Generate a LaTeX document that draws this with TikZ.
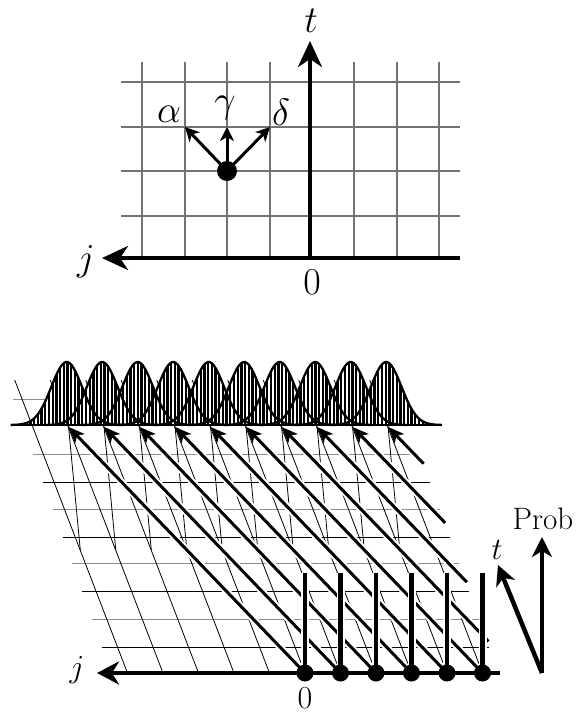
\RequirePackage{fix-cm}
\documentclass[tikz,border=0pt]{standalone}
\usetikzlibrary{arrows.meta}
\tikzset{
  topgrid/.style={black!55, line width=1.1pt},
  axisline/.style={line width=4pt},
  bigtip/.style={-{Stealth[length=26pt,width=24pt,inset=8pt]}},
  smallarrow/.style={line width=3pt,-{Stealth[length=14pt,width=14pt,inset=4pt]}},
  toplab/.style={font=\fontsize{38}{40}\selectfont, inner sep=0pt},
  botlab/.style={font=\fontsize{32}{36}\selectfont, inner sep=0pt},
  problab/.style={font=\fontsize{31}{34}\selectfont, inner sep=0pt},
  thinline/.style={black, line width=0.8pt},
  halo/.style={white, line width=7pt, shorten >=12pt},
  thickarrow/.style={line width=3pt,-{Stealth[length=16pt,width=13pt,inset=4pt]}},
  bar/.style={line width=4.5pt},
  barhalo/.style={white, line width=8pt},
  botdot/.style={circle, fill=black, minimum size=17pt, inner sep=0pt},
  topdot/.style={circle, fill=black, minimum size=20pt, inner sep=0pt},
  gcurve/.style={line width=2.3pt},
  probarrow/.style={line width=4.5pt,-{Stealth[length=20pt,width=20pt,inset=6pt]}},
}
\begin{document}
\begin{tikzpicture}[x=1pt,y=-1pt]
\useasboundingbox (0,0) rectangle (586,716);

% ---------------- top lattice ----------------
\foreach \x in {142,185,227,270,354,397,439}
  \draw[topgrid] (\x,62) -- (\x,258);
\foreach \y in {82,127,171,216}
  \draw[topgrid] (121,\y) -- (460,\y);
\coordinate (O1) at (310,258);
\coordinate (jS1) at (460,258);
\coordinate (jE1) at (102,258);
\coordinate (tE1) at (310,41);
\draw[axisline,bigtip] (jS1) -- (jE1);
\draw[axisline,bigtip] (O1) -- (tE1);
\node[topdot] (P) at (227,171) {};
\coordinate (A) at (185,127);
\coordinate (G) at (227,127);
\coordinate (D) at (270,127);
\draw[smallarrow] (P.center) -- (A);
\draw[smallarrow] (P.center) -- (G);
\draw[smallarrow] (P.center) -- (D);
\node[toplab] (la) at (169,114) {$\alpha$};
\node[toplab] (lg) at (225,108) {$\gamma$};
\node[toplab] (ld) at (281,112) {$\delta$};
\node[toplab] (lt1) at (311,21) {$t$};
\node[toplab] (lj1) at (86,262) {$j$};
\node[toplab] (l01) at (312,282) {$0$};

% ---------------- bottom skewed lattice ----------------
\def\s{35.5}
\foreach \y/\c in {399/black!45,454/black!45,482/black,509/black!45,537/black,563/black!45,591/black,619/black!45,647/black}
  \draw[\c, line width=1pt] ({13+0.36*(\y-399)},\y) -- ({400+0.36*(\y-399)},\y);

\begin{scope}
  \clip (6.2,380) -- (393,380) -- (498.6,673) -- (111.6,673) -- cycle;
  % lines of constant j
  \foreach \k in {-5,...,5}
    \draw[thinline] ({305+\s*\k},673) -- ({305+\s*\k-112.8},380);
  % short steep lines from each arrow tip down to the next j line
  \foreach \k in {-4,...,5}
    \draw[thinline] ({305+\s*\k-98.9},380) -- ({305+\s*\k-94.3+11.6},550);
\end{scope}

% thick diagonal arrows from the dots
\foreach \k in {0,...,5}{
  \coordinate (ds\k) at ({305+\s*\k},673);
  \coordinate (dt\k) at ({305+\s*(\k-4)-94.3},427);
  \draw[halo] (ds\k) -- (dt\k);
  \draw[thickarrow] (ds\k) -- (dt\k);
}
% thick diagonal arrows from the right border
\foreach \k in {2,...,5}{
  \pgfmathsetmacro{\tx}{305+\s*\k-94.3}
  \pgfmathsetmacro{\sy}{(666.06-\tx)/0.5993}
  \pgfmathsetmacro{\sx}{\tx+0.9645*(\sy-427)}
  \coordinate (et\k) at (\tx,427);
  \coordinate (es\k) at (\sx,\sy);
  \draw[halo] (es\k) -- (et\k);
  \draw[thickarrow] (es\k) -- (et\k);
}

% gaussians
\fill[white] \foreach \m in {0,...,9}{
  plot[domain=-56:56, samples=44] ({66.7+35.5*\m+\x},{425-63*exp(-(\x*\x)/470)}) -- cycle};
\begin{scope}
  \clip \foreach \m in {0,...,9}{
    plot[domain=-56:56, samples=44] ({66.7+35.5*\m+\x},{425-63*exp(-(\x*\x)/470)}) -- cycle};
  \foreach \h in {12,15.7,...,445}
    \draw[line width=2.3pt] (\h,427) -- (\h,355);
\end{scope}
\foreach \m in {0,...,9}
  \draw[gcurve] plot[domain=-56:56, samples=56] ({66.7+35.5*\m+\x},{425-63*exp(-(\x*\x)/470)});
\draw[line width=2.4pt] (11,425) -- (442,425);

% bars, axis, dots
\foreach \k in {0,...,5}{
  \coordinate (bt\k) at ({305+\s*\k},573);
  \draw[barhalo] (ds\k) -- (bt\k);
  \draw[bar] (ds\k) -- (bt\k);
}
\coordinate (jS2) at (500,673);
\coordinate (jE2) at (97,673);
\draw[axisline,-{Stealth[length=22pt,width=23pt,inset=7pt]}] (jS2) -- (jE2);
\foreach \k in {0,...,5}
  \node[botdot] (dot\k) at (ds\k) {};
\node[botlab] (lj2) at (77,670) {$j$};
\node[botlab] (l02) at (305,698) {$0$};

% Prob / t axes
\coordinate (PB) at (542,673);
\coordinate (PT) at (542,537);
\coordinate (TT) at (498,565);
\draw[probarrow] (PB) -- (PT);
\draw[probarrow] (PB) -- (TT);
\node[problab] (lprob) at (543,519) {Prob};
\node[problab] (lt2) at (497,550) {$t$};
\end{tikzpicture}
\end{document}
